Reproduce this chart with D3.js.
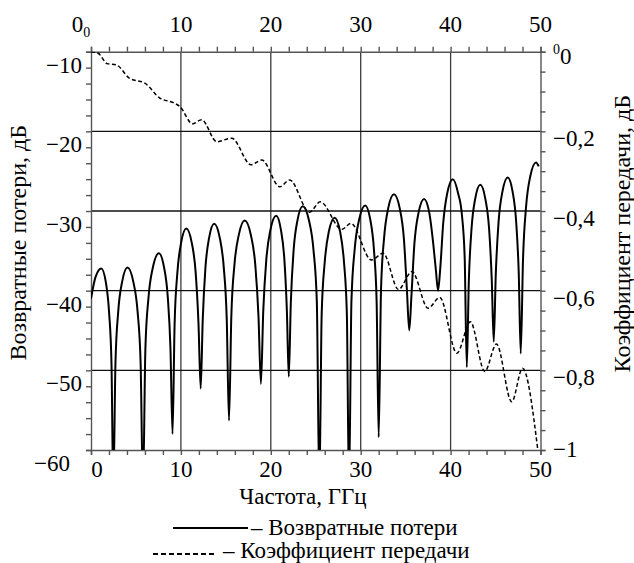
<!DOCTYPE html>
<html lang="ru">
<head>
    <meta charset="UTF-8">
    <script src="https://d3js.org/d3.v7.min.js"></script>
    <style>
        body { margin: 0; background: #fff; }
        svg text { font-family: "Liberation Serif", "DejaVu Serif", serif; font-size: 23px; fill: #000; }
        svg text.title { font-size: 24px; }
        svg tspan.small { font-size: 14px; }
    </style>
</head>
<body>
    <svg id="chart" width="634" height="563"></svg>
    <script>
        // Возвратные потери, дБ: [частота ГГц, дБ]
        const returnLoss = [
            [0, -41], [0.5, -38.3], [1.15, -37.2], [1.66, -39.0], [2.01, -42.7], [2.28, -49.2], [2.48, -65],
            [2.72, -49.1], [3.03, -42.6], [3.46, -38.9], [4.06, -37.1], [4.71, -38.9], [5.18, -42.6], [5.52, -49.1], [5.78, -65],
            [6.05, -47.3], [6.40, -40.8], [6.88, -37.1], [7.55, -35.3], [8.13, -37.1], [8.54, -40.8], [8.84, -47.3], [9.07, -58],
            [9.30, -44.2], [9.61, -37.7], [10.02, -34.0], [10.6, -32.2], [11.21, -34.0], [11.64, -37.7], [11.96, -44.2], [12.2, -52.3],
            [12.43, -43.6], [12.73, -37.1], [13.13, -33.4], [13.7, -31.6], [14.33, -33.4], [14.77, -37.1], [15.10, -43.6], [15.35, -56.3],
            [15.61, -43.2], [15.96, -36.7], [16.44, -33.0], [17.1, -31.2], [17.78, -33.0], [18.27, -36.7], [18.63, -43.2], [18.9, -51.7],
            [19.16, -42.6], [19.5, -36.1], [19.95, -32.4], [20.6, -30.6], [21.13, -32.4], [21.51, -36.1], [21.79, -42.6], [22.0, -50.8],
            [22.23, -41.4], [22.54, -34.9], [22.96, -31.2], [23.55, -29.4], [24.25, -31.2], [24.75, -34.9], [25.12, -41.4], [25.4, -65],
            [25.66, -42.9], [26.0, -36.4], [26.45, -32.6], [27.1, -30.85], [27.71, -32.6], [28.14, -36.4], [28.46, -42.9], [28.7, -65],
            [28.97, -41.3], [29.33, -34.8], [29.82, -31.1], [30.5, -29.3], [31.07, -31.1], [31.47, -34.8], [31.77, -41.3], [32.0, -58.4],
            [32.26, -39.9], [32.6, -33.4], [33.05, -29.7], [33.7, -27.9], [34.35, -29.7], [34.8, -33.4], [35.14, -39.9], [35.4, -45.0],
            [35.65, -40.5], [35.98, -34.0], [36.42, -30.3], [37.05, -28.5], [37.64, -30.3], [38.06, -34.0], [38.37, -37.5], [38.6, -40.0],
            [38.85, -37.2], [39.18, -31.5], [39.62, -27.8], [40.25, -26.0], [40.84, -27.8], [41.26, -30.5], [41.57, -36.0], [41.8, -49.6],
            [42.03, -38.7], [42.33, -32.2], [42.73, -28.5], [43.3, -26.7], [43.87, -28.5], [44.28, -32.2], [44.58, -38.7], [44.8, -46.4],
            [45.03, -37.8], [45.34, -31.3], [45.76, -27.6], [46.35, -25.8], [46.9, -27.6], [47.29, -31.3], [47.58, -37.8], [47.8, -47.9],
            [48.06, -35.9], [48.4, -29.4], [48.85, -25.7], [49.5, -23.9], [49.8, -24.4]
        ];

        // Коэффициент передачи, дБ
        const transmission = [
            [0, 0], [0.8, -0.004], [1.8, -0.03], [2.8, -0.033], [4.3, -0.067], [6.0, -0.079], [7.7, -0.117],
            [9.15, -0.128], [9.9, -0.138], [11.3, -0.181], [12.3, -0.171], [14.0, -0.226], [15.65, -0.217],
            [17.8, -0.284], [19.0, -0.272], [21.0, -0.339], [22.1, -0.322], [24.3, -0.403], [25.5, -0.377],
            [27.9, -0.446], [28.9, -0.431], [31.2, -0.523], [32.5, -0.506], [34.2, -0.597], [35.7, -0.552],
            [37.5, -0.644], [38.8, -0.617], [40.7, -0.757], [42.2, -0.678], [43.8, -0.803], [45.1, -0.734],
            [46.8, -0.879], [48.0, -0.795], [49.7, -1.0]
        ];

        const xTicks = [0, 10, 20, 30, 40, 50];
        const leftTicks = [-60, -50, -40, -30, -20, -10];
        const rightTicks = [0, -0.2, -0.4, -0.6, -0.8, -1];

        const pl = 91, pr = 540.5, pt = 51.7, pb = 450;

        const svg = d3.select("#chart");

        const x = d3.scaleLinear().domain([0, 50]).range([pl, pr]);
        const yL = d3.scaleLinear().domain([-60, -10]).range([pb, pt]);
        const yR = d3.scaleLinear().domain([-1, 0]).range([pb, pt]);

        svg.append("defs").append("clipPath").attr("id", "plot")
            .append("rect")
            .attr("x", pl).attr("y", pt)
            .attr("width", pr - pl).attr("height", pb - pt);

        // сетка
        svg.append("g").selectAll("line")
            .data(xTicks.slice(1, -1))
            .enter().append("line")
            .attr("x1", d => x(d)).attr("x2", d => x(d))
            .attr("y1", pt).attr("y2", pb)
            .attr("stroke", "#3a3a3a").attr("stroke-width", 1.3);

        svg.append("g").selectAll("line")
            .data(leftTicks.slice(1, -1))
            .enter().append("line")
            .attr("x1", pl).attr("x2", pr)
            .attr("y1", d => yL(d)).attr("y2", d => yL(d))
            .attr("stroke", "#111").attr("stroke-width", 1.3);

        // оси (только штрихи)
        const noLabel = () => "";
        const axes = [
            svg.append("g").attr("transform", `translate(0,${pb})`)
                .call(d3.axisBottom(x).tickValues(d3.range(0, 51, 2)).tickSize(5).tickFormat(noLabel)),
            svg.append("g").attr("transform", `translate(0,${pt})`)
                .call(d3.axisTop(x).tickValues(d3.range(0, 51, 2)).tickSize(5).tickFormat(noLabel)),
            svg.append("g").attr("transform", `translate(${pl},0)`)
                .call(d3.axisLeft(yL).tickValues(d3.range(-60, -9, 2)).tickSize(5).tickFormat(noLabel)),
            svg.append("g").attr("transform", `translate(${pr},0)`)
                .call(d3.axisRight(yR).tickValues(d3.range(0, 21).map(i => -i * 0.05)).tickSize(5).tickFormat(noLabel))
        ];
        axes.forEach(g => {
            g.selectAll("path, line").attr("stroke", "#555").attr("stroke-width", 1.4);
            g.selectAll("text").remove();
        });

        // кривые
        const lineL = d3.line().x(d => x(d[0])).y(d => yL(d[1])).curve(d3.curveMonotoneX);
        const lineR = d3.line().x(d => x(d[0])).y(d => yR(d[1])).curve(d3.curveMonotoneX);

        const curves = svg.append("g").attr("clip-path", "url(#plot)");
        curves.append("path")
            .datum(returnLoss)
            .attr("d", lineL)
            .attr("fill", "none").attr("stroke", "#000").attr("stroke-width", 2);
        curves.append("path")
            .datum(transmission)
            .attr("d", lineR)
            .attr("fill", "none").attr("stroke", "#000").attr("stroke-width", 1.5)
            .attr("stroke-dasharray", "4,2.5");

        // подписи осей
        svg.selectAll(".bl").data(xTicks).enter().append("text")
            .attr("x", d => d === 0 ? x(d) + 6 : x(d))
            .attr("y", 477)
            .attr("text-anchor", "middle")
            .text(d => d);

        const topLabels = svg.selectAll(".tl").data(xTicks).enter().append("text")
            .attr("x", d => d === 0 ? x(d) - 10 : x(d))
            .attr("y", 32)
            .attr("text-anchor", "middle")
            .text(d => d);
        topLabels.filter(d => d === 0).append("tspan")
            .attr("class", "small").attr("dy", 5).text("0");

        svg.selectAll(".ll").data(leftTicks).enter().append("text")
            .attr("x", d => d === -60 ? 70 : 82)
            .attr("y", d => yL(d) + 21)
            .attr("text-anchor", "end")
            .text(d => "\u2212" + Math.abs(d));

        const rightLabels = svg.selectAll(".rl").data(rightTicks).enter().append("text")
            .attr("x", 553)
            .attr("y", d => d === 0 ? 64 : d === -1 ? 457 : yR(d) + 15)
            .attr("text-anchor", "start");
        rightLabels.filter(d => d === 0).append("tspan")
            .attr("class", "small").attr("dy", -10).text("0");
        rightLabels.filter(d => d === 0).append("tspan")
            .attr("dy", 10).text("0");
        rightLabels.filter(d => d !== 0)
            .text(d => "\u2212" + String(Math.abs(d)).replace(".", ","));

        svg.append("text")
            .attr("class", "title")
            .attr("transform", `translate(26,125) rotate(-90)`)
            .attr("text-anchor", "end")
            .text("Возвратные потери, дБ");

        svg.append("text")
            .attr("class", "title")
            .attr("transform", `translate(630,95) rotate(-90)`)
            .attr("text-anchor", "end")
            .text("Коэффициент передачи, дБ");

        svg.append("text")
            .attr("x", 303).attr("y", 504)
            .attr("text-anchor", "middle")
            .text("Частота, ГГц");

        // легенда
        svg.append("line")
            .attr("x1", 173).attr("x2", 248).attr("y1", 528).attr("y2", 528)
            .attr("stroke", "#000").attr("stroke-width", 2);
        svg.append("text").attr("x", 251).attr("y", 535).text("– Возвратные потери");

        svg.append("line")
            .attr("x1", 153).attr("x2", 217).attr("y1", 554).attr("y2", 554)
            .attr("stroke", "#000").attr("stroke-width", 2)
            .attr("stroke-dasharray", "5,3");
        svg.append("text").attr("x", 223).attr("y", 558).text("– Коэффициент передачи");
    </script>
</body>
</html>
